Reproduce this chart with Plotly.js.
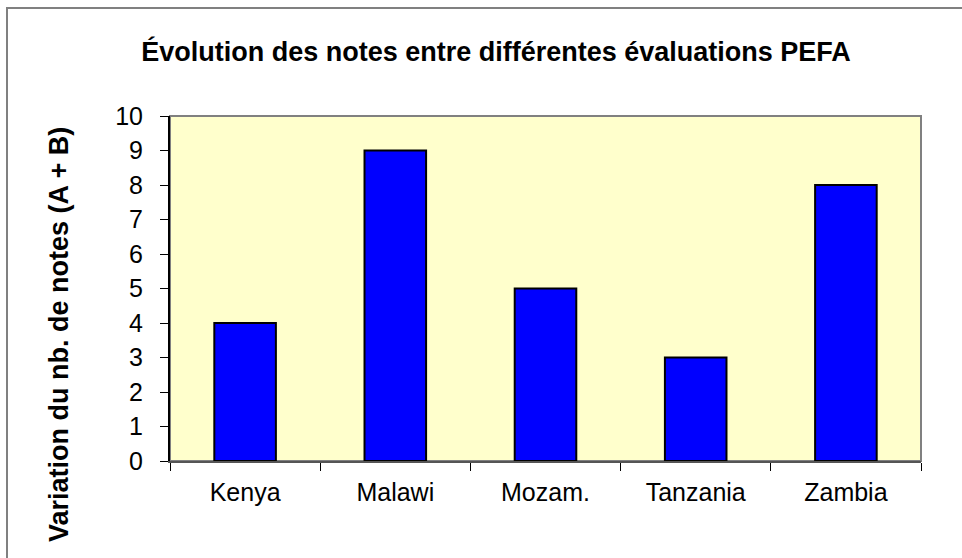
<!DOCTYPE html>
<html>
<head>
<meta charset="utf-8">
<script src="https://cdn.plot.ly/plotly-3.0.1.min.js"></script>
<style>
  html, body { margin: 0; padding: 0; background: #ffffff; }
  #wrap { position: relative; width: 962px; height: 558px; overflow: hidden; }
  #chart { position: absolute; left: 0; top: 0; width: 962px; height: 558px; }
  #frame { position: absolute; left: 6px; top: 7px; width: 960px; height: 560px;
           border-left: 2px solid #808080; border-top: 2px solid #808080; pointer-events: none; }
  #caption { position: absolute; left: 10px; top: -18px; white-space: nowrap;
             font-family: "Liberation Serif", "Times New Roman", serif; font-weight: bold;
             font-size: 24px; line-height: 24px; color: #000; }
</style>
</head>
<body>
<div id="wrap">
  <div id="caption">Figure 4 : Évolution des notes entre différentes évaluations PEFA</div>
  <div id="chart"></div>
  <div id="frame"></div>
</div>
<script>
const countries = ["Kenya", "Malawi", "Mozam.", "Tanzania", "Zambia"];
const variation = [4, 9, 5, 3, 8];
const yTickValues = [0, 1, 2, 3, 4, 5, 6, 7, 8, 9, 10];

const chartTitle = "Évolution des notes entre différentes évaluations PEFA";
const yTitle = "Variation du nb. de notes (A + B)";

const trace = {
  type: "bar",
  x: countries,
  y: variation,
  marker: { color: "#0000FF", line: { color: "#000000", width: 2 } },
  hoverinfo: "x+y"
};

const layout = {
  width: 962,
  height: 558,
  margin: { l: 170, r: 41, t: 116, b: 97 },
  paper_bgcolor: "#ffffff",
  plot_bgcolor: "#FFFFCC",
  showlegend: false,
  bargap: 0.59,
  font: { family: "Liberation Sans, Arial, sans-serif", color: "#000000" },
  title: {
    text: "<b>" + chartTitle + "</b>",
    font: { family: "Liberation Sans, Arial, sans-serif", size: 27, color: "#000000" },
    x: 496 / 962, xanchor: "center", xref: "container",
    y: 1 - 52 / 558, yanchor: "middle", yref: "container"
  },
  xaxis: {
    type: "category",
    showgrid: false,
    zeroline: false,
    showline: true,
    linecolor: "#555555",
    linewidth: 2,
    ticks: "outside",
    tickson: "boundaries",
    ticklen: 8,
    tickcolor: "#000000",
    tickwidth: 1,
    tickfont: { size: 25, family: "Liberation Sans, Arial, sans-serif", color: "#000000" },
    ticklabelstandoff: 8
  },
  yaxis: {
    range: [0, 10],
    tickvals: yTickValues,
    ticktext: yTickValues.map(String),
    showgrid: false,
    zeroline: false,
    showline: true,
    linecolor: "#000000",
    linewidth: 2,
    ticks: "outside",
    ticklen: 8,
    tickcolor: "#000000",
    tickwidth: 1,
    tickfont: { size: 25, family: "Liberation Sans, Arial, sans-serif", color: "#000000" },
    ticklabelstandoff: 12
  },
  shapes: [
    { type: "rect", xref: "paper", yref: "paper", x0: 0, x1: 1, y0: 0, y1: 1,
      line: { color: "#808080", width: 2 }, layer: "below" }
  ],
  annotations: [
    { text: "<b>" + yTitle + "</b>", xref: "paper", yref: "paper",
      x: (59 - 170) / 751, y: (461 - 335) / 345, xanchor: "center", yanchor: "middle",
      textangle: -90, showarrow: false,
      font: { family: "Liberation Sans, Arial, sans-serif", size: 27, color: "#000000" } }
  ]
};

Plotly.newPlot("chart", [trace], layout, { displayModeBar: false, staticPlot: true });
</script>
</body>
</html>
